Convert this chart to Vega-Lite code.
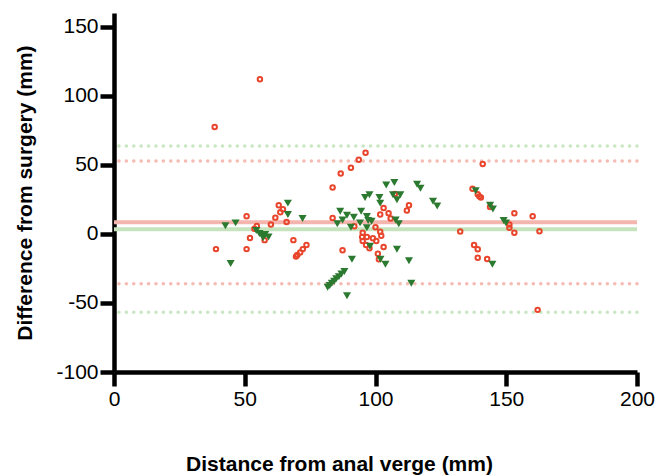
{
  "$schema": "https://vega.github.io/schema/vega-lite/v6.json",
  "autosize": {"type": "fit", "contains": "padding"},
  "width": 656,
  "height": 475,
  "padding": {"left": 14, "top": 13, "right": 1, "bottom": 1},
  "config": {
    "view": {"stroke": null},
    "font": "Liberation Sans",
    "axis": {
      "grid": false,
      "domainColor": "black",
      "domainWidth": 4.5,
      "tickColor": "black",
      "tickWidth": 4.5,
      "tickSize": 14,
      "labelFont": "Liberation Sans",
      "labelFontSize": 21,
      "labelColor": "black",
      "labelFlush": false,
      "labelExpr": "'' + datum.value",
      "titleFont": "Liberation Sans",
      "titleFontSize": 21,
      "titleFontWeight": "bold",
      "titleColor": "black"
    }
  },
  "datasets": {
    "lines": [
      {"y": 8.5, "g": "A", "t": "mean"},
      {"y": 3.4, "g": "B", "t": "mean"},
      {"y": 52.8, "g": "A", "t": "loa"},
      {"y": -36, "g": "A", "t": "loa"},
      {"y": 63.6, "g": "B", "t": "loa"},
      {"y": -56.7, "g": "B", "t": "loa"}
    ],
    "pts": [
      {"x": 38.5, "y": 77.5, "g": "A"},
      {"x": 55.8, "y": 112, "g": "A"},
      {"x": 39, "y": -11, "g": "A"},
      {"x": 50.7, "y": 12.8, "g": "A"},
      {"x": 50.7, "y": -11, "g": "A"},
      {"x": 52, "y": -3, "g": "A"},
      {"x": 54.6, "y": 5.8, "g": "A"},
      {"x": 53.7, "y": 3.7, "g": "A"},
      {"x": 57.6, "y": -4.5, "g": "A"},
      {"x": 60, "y": 6.8, "g": "A"},
      {"x": 61.7, "y": 11.8, "g": "A"},
      {"x": 63, "y": 20.7, "g": "A"},
      {"x": 63.6, "y": 15.7, "g": "A"},
      {"x": 64.6, "y": 17.8, "g": "A"},
      {"x": 66, "y": 8.7, "g": "A"},
      {"x": 68.6, "y": -4.5, "g": "A"},
      {"x": 73.6, "y": -8, "g": "A"},
      {"x": 72.2, "y": -11, "g": "A"},
      {"x": 71.2, "y": -13.5, "g": "A"},
      {"x": 70.1, "y": -15.2, "g": "A"},
      {"x": 69.6, "y": -16.4, "g": "A"},
      {"x": 96.2, "y": 58.8, "g": "A"},
      {"x": 93.6, "y": 53.7, "g": "A"},
      {"x": 90.6, "y": 48, "g": "A"},
      {"x": 86.7, "y": 43.7, "g": "A"},
      {"x": 83.6, "y": 33.6, "g": "A"},
      {"x": 83.6, "y": 11.6, "g": "A"},
      {"x": 87.4, "y": -11.9, "g": "A"},
      {"x": 103.1, "y": 18.8, "g": "A"},
      {"x": 105, "y": 14.9, "g": "A"},
      {"x": 101.8, "y": 14, "g": "A"},
      {"x": 105.8, "y": 11.1, "g": "A"},
      {"x": 112, "y": 16.9, "g": "A"},
      {"x": 112.8, "y": 20.7, "g": "A"},
      {"x": 107.4, "y": 29, "g": "A"},
      {"x": 91.9, "y": 5.6, "g": "A"},
      {"x": 100, "y": 4.9, "g": "A"},
      {"x": 101.8, "y": 1.5, "g": "A"},
      {"x": 102.2, "y": -1.3, "g": "A"},
      {"x": 95.1, "y": 0.8, "g": "A"},
      {"x": 94.9, "y": -2.3, "g": "A"},
      {"x": 96.7, "y": -2.3, "g": "A"},
      {"x": 95.1, "y": -5.2, "g": "A"},
      {"x": 99, "y": -3.2, "g": "A"},
      {"x": 100.3, "y": -5.2, "g": "A"},
      {"x": 96.4, "y": -8, "g": "A"},
      {"x": 97.7, "y": -10.4, "g": "A"},
      {"x": 103.1, "y": -9.5, "g": "A"},
      {"x": 100.9, "y": -14.3, "g": "A"},
      {"x": 101.3, "y": -18.3, "g": "A"},
      {"x": 132.4, "y": 1.8, "g": "A"},
      {"x": 141, "y": 50.6, "g": "A"},
      {"x": 137.1, "y": 32.7, "g": "A"},
      {"x": 139.1, "y": 28.8, "g": "A"},
      {"x": 139.7, "y": 27.2, "g": "A"},
      {"x": 140.3, "y": 26.4, "g": "A"},
      {"x": 143.8, "y": 19.5, "g": "A"},
      {"x": 153.1, "y": 14.9, "g": "A"},
      {"x": 160.1, "y": 12.8, "g": "A"},
      {"x": 151.2, "y": 6.8, "g": "A"},
      {"x": 151.2, "y": 4.4, "g": "A"},
      {"x": 153.1, "y": 0.8, "g": "A"},
      {"x": 162.7, "y": 2, "g": "A"},
      {"x": 137.7, "y": -8, "g": "A"},
      {"x": 139.1, "y": -11.1, "g": "A"},
      {"x": 139.1, "y": -17.2, "g": "A"},
      {"x": 142.7, "y": -18.1, "g": "A"},
      {"x": 162, "y": -55, "g": "A"},
      {"x": 42.6, "y": 6, "g": "B"},
      {"x": 46.5, "y": 8, "g": "B"},
      {"x": 44.6, "y": -21.5, "g": "B"},
      {"x": 66.5, "y": 22.3, "g": "B"},
      {"x": 66.5, "y": 14, "g": "B"},
      {"x": 72.1, "y": 11.1, "g": "B"},
      {"x": 55.6, "y": 0.3, "g": "B"},
      {"x": 56.7, "y": -0.9, "g": "B"},
      {"x": 57.8, "y": -0.4, "g": "B"},
      {"x": 59.1, "y": -2.3, "g": "B"},
      {"x": 57, "y": -2.8, "g": "B"},
      {"x": 54.4, "y": 2.5, "g": "B"},
      {"x": 104.1, "y": 35.5, "g": "B"},
      {"x": 107.2, "y": 37.2, "g": "B"},
      {"x": 97.7, "y": 28.4, "g": "B"},
      {"x": 96, "y": 26.4, "g": "B"},
      {"x": 101.5, "y": 26.4, "g": "B"},
      {"x": 101.8, "y": 22.3, "g": "B"},
      {"x": 106.7, "y": 28.4, "g": "B"},
      {"x": 108.2, "y": 24.8, "g": "B"},
      {"x": 109.5, "y": 28.4, "g": "B"},
      {"x": 86.5, "y": 16.4, "g": "B"},
      {"x": 89.1, "y": 13.5, "g": "B"},
      {"x": 91.7, "y": 12.1, "g": "B"},
      {"x": 87.4, "y": 10.1, "g": "B"},
      {"x": 94.5, "y": 16.4, "g": "B"},
      {"x": 96.7, "y": 12.6, "g": "B"},
      {"x": 97.2, "y": 9.7, "g": "B"},
      {"x": 98.5, "y": 9.2, "g": "B"},
      {"x": 94.1, "y": 8, "g": "B"},
      {"x": 85.4, "y": 7.3, "g": "B"},
      {"x": 90.6, "y": 4.9, "g": "B"},
      {"x": 96.7, "y": 4.4, "g": "B"},
      {"x": 107.7, "y": 10.1, "g": "B"},
      {"x": 108.9, "y": 7.3, "g": "B"},
      {"x": 97.9, "y": -9, "g": "B"},
      {"x": 101.9, "y": -18.3, "g": "B"},
      {"x": 103.8, "y": -21.9, "g": "B"},
      {"x": 108.2, "y": -11.1, "g": "B"},
      {"x": 91, "y": -18.3, "g": "B"},
      {"x": 81.7, "y": -38.7, "g": "B"},
      {"x": 82.5, "y": -37.3, "g": "B"},
      {"x": 83.3, "y": -35.8, "g": "B"},
      {"x": 84.2, "y": -34.3, "g": "B"},
      {"x": 85, "y": -32.5, "g": "B"},
      {"x": 86, "y": -31, "g": "B"},
      {"x": 87, "y": -29, "g": "B"},
      {"x": 88.1, "y": -27.2, "g": "B"},
      {"x": 89.1, "y": -44.7, "g": "B"},
      {"x": 115.9, "y": 36, "g": "B"},
      {"x": 117.2, "y": 33.1, "g": "B"},
      {"x": 122, "y": 23.6, "g": "B"},
      {"x": 123.6, "y": 20.2, "g": "B"},
      {"x": 112.8, "y": -19.5, "g": "B"},
      {"x": 113.7, "y": -35.8, "g": "B"},
      {"x": 138.3, "y": 31.2, "g": "B"},
      {"x": 143.8, "y": 20.7, "g": "B"},
      {"x": 144.9, "y": 18, "g": "B"},
      {"x": 149, "y": 9.7, "g": "B"},
      {"x": 149.9, "y": 8, "g": "B"},
      {"x": 144.7, "y": -21.9, "g": "B"}
    ]
  },
  "layer": [
    {
      "data": {"name": "lines"},
      "transform": [{"filter": "datum.t === 'loa'"}],
      "mark": {"type": "rule", "strokeWidth": 3.5, "strokeDash": [0.1, 7.3], "strokeCap": "round"},
      "encoding": {
        "y": {"field": "y", "type": "quantitative", "scale": {"domain": [-100, 150]}},
        "color": {"field": "g", "type": "nominal", "scale": {"domain": ["A", "B"], "range": ["#f5bcb3", "#c9e7c2"]}, "legend": null}
      }
    },
    {
      "data": {"name": "lines"},
      "transform": [{"filter": "datum.t === 'mean'"}],
      "mark": {"type": "rule", "strokeWidth": 4},
      "encoding": {
        "y": {"field": "y", "type": "quantitative"},
        "color": {"field": "g", "type": "nominal", "scale": {"domain": ["A", "B"], "range": ["#f3b5ad", "#c5e3bd"]}, "legend": null}
      }
    },
    {
      "data": {"name": "pts"},
      "transform": [{"filter": "datum.g === 'A'"}],
      "mark": {"type": "point", "shape": "circle", "filled": false, "stroke": "#e8452c", "strokeWidth": 2, "size": 20, "opacity": 1},
      "encoding": {
        "x": {"field": "x", "type": "quantitative"},
        "y": {"field": "y", "type": "quantitative"}
      }
    },
    {
      "data": {"name": "pts"},
      "transform": [{"filter": "datum.g === 'B'"}],
      "mark": {"type": "point", "shape": "triangle-down", "filled": true, "fill": "#2b7a2f", "opacity": 1, "size": 65},
      "encoding": {
        "x": {"field": "x", "type": "quantitative", "scale": {"domain": [0, 200]}, "axis": {"values": [0, 50, 100, 150, 200], "title": "Distance from anal verge (mm)", "titlePadding": 44, "labelPadding": 2, "titleX": 225}},
        "y": {"field": "y", "type": "quantitative", "scale": {"domain": [-100, 150]}, "axis": {"values": [-100, -50, 0, 50, 100, 150], "title": "Difference from surgery (mm)", "titlePadding": 20, "labelPadding": 2}}
      }
    }
  ],
  "resolve": {"scale": {"color": "independent"}}
}
